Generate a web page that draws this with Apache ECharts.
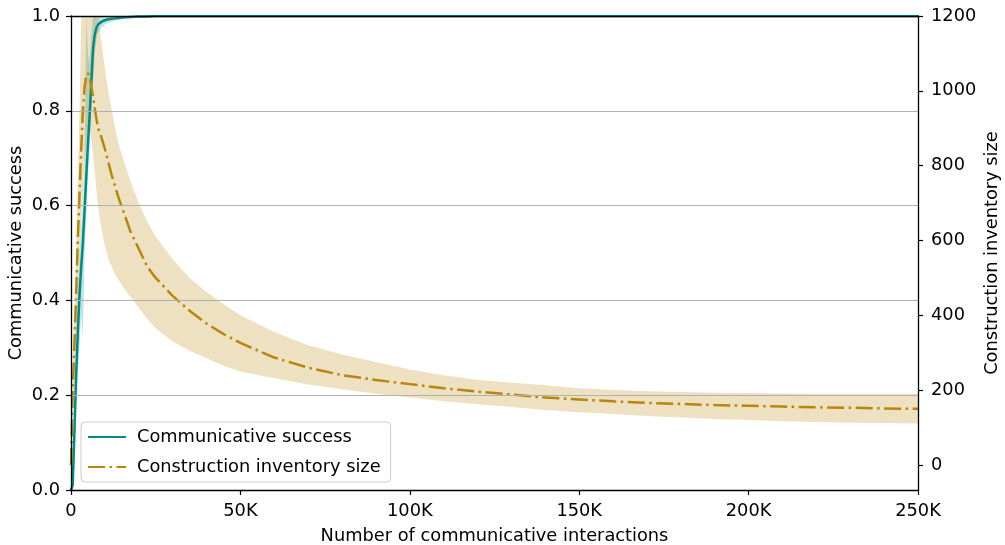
<!DOCTYPE html>
<html><head><meta charset="utf-8">
<script src="https://cdn.jsdelivr.net/npm/echarts@6/dist/echarts.min.js"></script>
<style>html,body{margin:0;padding:0;background:#fff}#c{width:1005px;height:545px}</style>
</head><body><div id="c"></div>
<script>
// x positions in thousands of interactions
const xK = [0,0.5,1,1.5,2,2.5,3,3.5,4,4.5,5,5.5,6,6.5,7,7.5,8,9,10,11,12,13,14,15,17.5,20,22.5,25,30,35,40,45,50,60,70,80,90,100,110,120,130,140,150,160,170,180,190,200,210,220,230,240,250];

const success = [0,0.01,0.12,0.24,0.33,0.41,0.47,0.52,0.59,0.66,
  0.73,0.79,0.86,0.93,0.96,0.975,0.982,
  0.988,0.991,0.993,0.994,0.995,0.996,0.997,
  0.998,0.999,0.999,1,
  1,1,1,1,1, 1,1,1,1,1,
  1,1,1,1,1,1,1,1,1,1,1,1,1,1,1];
const successHigh = [0,0.03,0.2,0.32,0.41,0.49,0.55,0.6,0.68,1.0,
  0.92,0.9,0.96,1,1,1,1,
  1,1,1,1,1,1,1,
  1,1,1,1,
  1,1,1,1,1, 1,1,1,1,1,
  1,1,1,1,1,1,1,1,1,1,1,1,1,1,1];
const successLow = [0,0,0.05,0.16,0.24,0.3,0.37,0.32,0.5,0.58,
  0.66,0.72,0.8,0.86,0.92,0.95,0.965,
  0.975,0.982,0.986,0.988,0.99,0.992,0.993,
  0.995,0.997,0.998,0.999,
  1,1,1,1,1, 1,1,1,1,1,
  1,1,1,1,1,1,1,1,1,1,1,1,1,1,1];

const inventory = [0,190,320,450,600,720,840,945,1010,1040,
  1047,1035,1010,985,955,925,900,
  875,845,810,775,745,715,690,
  625,578,530,500,
  452,412,378,350,326,
  287,260,240,227,216,
  205,196,188,180,175,170,166,163,160,158,156,154,153,151,150];
const inventoryHigh = [0,260,420,580,760,930,1200,1300,1350,1380,
  1380,1360,1320,1280,1250,1220,1200,
  1130,1060,1000,950,900,860,830,
  760,700,650,610,
  550,500,462,430,400,
  355,320,295,275,255,
  240,228,220,213,205,200,197,195,193,192,191,190,190,190,190];
const inventoryLow = [0,120,220,320,430,540,640,720,800,860,
  900,905,870,830,785,735,690,
  630,585,552,530,510,495,480,
  450,420,390,365,
  330,305,285,265,250,
  232,215,202,190,180,
  170,162,155,147,141,136,131,127,123,120,117,115,113,112,111];

const rightTicks = [0,200,400,600,800,1000,1200];

const FONT = 'DejaVu Sans';
const FS = 17.8;
const TEAL = '#008b8b';
const GOLD = '#b8860b';

const pairs = ys => xK.map((x,i) => [x*1000, ys[i]]);
const triples = (lo, hi) => xK.map((x,i) => [x*1000, lo[i], hi[i]]);

function band(lo, hi, fill){
  return function(params, api){
    if (params.dataIndex !== 0) return null;
    const pts = [];
    for (let i = 0; i < xK.length; i++) pts.push(api.coord([xK[i]*1000, hi[i]]));
    for (let i = xK.length-1; i >= 0; i--) pts.push(api.coord([xK[i]*1000, lo[i]]));
    const cs = params.coordSys;
    return {type:'polygon', shape:{points:pts}, style:{fill:fill},
      clipPath:{type:'rect', shape:{x:cs.x, y:cs.y, width:cs.width, height:cs.height}}};
  };
}

const chart = echarts.init(document.getElementById('c'), null, {renderer:'canvas'});
chart.setOption({
  animation:false,
  backgroundColor:'#fff',
  textStyle:{fontFamily:FONT},
  grid:{left:71,right:87,top:16,bottom:55,show:false,containLabel:false,outerBoundsMode:'none'},
  legend:{
    orient:'vertical', left:81, top:422,
    data:['Communicative success','Construction inventory size'],
    itemWidth:38, itemHeight:14, itemGap:12,
    padding:[6,10,6,6],
    itemStyle:{opacity:0},
    borderColor:'#cccccc', borderWidth:1, borderRadius:4,
    backgroundColor:'rgba(255,255,255,0.8)',
    textStyle:{fontFamily:FONT,fontSize:FS,color:'#000',padding:[0,0,0,6]}
  },
  xAxis:[{
    type:'value', min:0, max:250000, interval:50000,
    axisLine:{show:true,onZero:false,lineStyle:{color:'#000',width:1.3}},
    axisTick:{show:true,length:5,lineStyle:{color:'#000',width:1.2}},
    axisLabel:{fontSize:FS,color:'#000',fontFamily:FONT,margin:12,
      formatter:v => v===0 ? '0' : (v/1000)+'K'},
    splitLine:{show:false},
    name:'Number of communicative interactions', nameLocation:'middle', nameGap:37, nameMoveOverlap:false,
    nameTextStyle:{fontSize:FS,color:'#000',fontFamily:FONT}, z:30
  },{
    type:'value', min:0, max:250000, position:'top',
    axisLine:{show:true,onZero:false,lineStyle:{color:'#000',width:1.3}},
    axisTick:{show:false}, axisLabel:{show:false}, splitLine:{show:false}, z:30
  }],
  yAxis:[{
    type:'value', min:0, max:1, interval:0.2, position:'left',
    axisLine:{show:true,onZero:false,lineStyle:{color:'#000',width:1.3}},
    axisTick:{show:true,length:5,lineStyle:{color:'#000',width:1.2}},
    axisLabel:{fontSize:FS,color:'#000',fontFamily:FONT,margin:11,formatter:v=>v.toFixed(1)},
    splitLine:{show:true,lineStyle:{color:'#b0b0b0',width:1}},
    name:'Communicative success', nameLocation:'middle', nameRotate:90, nameGap:46, nameMoveOverlap:false,
    nameTextStyle:{fontSize:FS,color:'#000',fontFamily:FONT}, z:20
  },{
    type:'value', min:-67, max:1200, position:'right',
    axisLine:{show:true,onZero:false,lineStyle:{color:'#000',width:1.3}},
    axisTick:{show:true,length:5,lineStyle:{color:'#000',width:1.2},customValues:rightTicks},
    axisLabel:{fontSize:FS,color:'#000',fontFamily:FONT,margin:13,customValues:rightTicks,formatter:v=>String(v)},
    splitLine:{show:false},
    name:'Construction inventory size', nameLocation:'middle', nameRotate:90, nameGap:65, nameMoveOverlap:false,
    nameTextStyle:{fontSize:FS,color:'#000',fontFamily:FONT}, z:20
  }],
  series:[
    {type:'custom', yAxisIndex:0, data:triples(successLow, successHigh), encode:{x:0,y:[1,2]},
      renderItem:band(successLow, successHigh, 'rgba(0,139,139,0.25)'), silent:true, z:1},
    {type:'custom', yAxisIndex:1, data:triples(inventoryLow, inventoryHigh), encode:{x:0,y:[1,2]},
      renderItem:band(inventoryLow, inventoryHigh, 'rgba(184,134,11,0.25)'), silent:true, z:2},
    {name:'Communicative success', type:'line', yAxisIndex:0, data:pairs(success), symbol:'none',
      color:TEAL, lineStyle:{color:TEAL,width:2.5}, itemStyle:{color:TEAL}, z:5},
    {name:'Construction inventory size', type:'line', yAxisIndex:1, data:pairs(inventory), symbol:'none',
      color:GOLD, lineStyle:{color:GOLD,width:2.5,type:[17,4.5,2.5,4.5]}, itemStyle:{color:GOLD}, z:6}
  ]
});
</script></body></html>
